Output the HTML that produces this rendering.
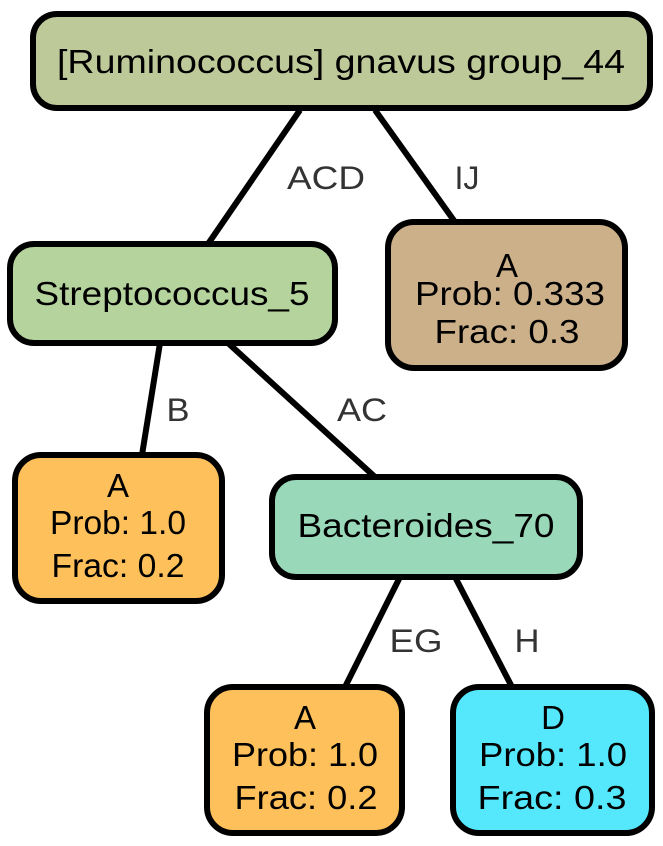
<!DOCTYPE html>
<html><head><meta charset="utf-8"><style>
html,body{margin:0;padding:0;background:#fff}
svg{display:block}
text{font-family:"Liberation Sans",Arial,sans-serif;text-anchor:middle}
</style></head><body>
<svg width="663" height="846" viewBox="0 0 663 846" xmlns="http://www.w3.org/2000/svg">
<g stroke="#000" stroke-width="6" fill="none">
<line x1="300" y1="110" x2="208" y2="244"/>
<line x1="375" y1="110" x2="455" y2="222"/>
<line x1="160" y1="343" x2="142" y2="455"/>
<line x1="228" y1="343" x2="375" y2="477"/>
<line x1="400" y1="577" x2="345" y2="687"/>
<line x1="455" y1="577" x2="512" y2="687"/>
</g>
<g font-size="32" fill="#333">
<text x="326" y="189" textLength="78" lengthAdjust="spacingAndGlyphs">ACD</text>
<text x="467" y="189" textLength="25" lengthAdjust="spacingAndGlyphs">IJ</text>
<text x="178" y="421" textLength="23" lengthAdjust="spacingAndGlyphs">B</text>
<text x="362" y="421" textLength="50" lengthAdjust="spacingAndGlyphs">AC</text>
<text x="416" y="652" textLength="53" lengthAdjust="spacingAndGlyphs">EG</text>
<text x="527" y="652" textLength="25" lengthAdjust="spacingAndGlyphs">H</text>
</g>
<g stroke="#000" stroke-width="6">
<rect x="33" y="14" width="617" height="94" rx="24" fill="#BEC99A"/>
<rect x="10" y="244" width="325" height="99" rx="24" fill="#B5D39C"/>
<rect x="388" y="222" width="237" height="146" rx="26" fill="#CCB08A"/>
<rect x="15" y="455" width="207" height="146" rx="26" fill="#FDC05A"/>
<rect x="272" y="477" width="308" height="100" rx="24" fill="#99D9BA"/>
<rect x="207" y="687" width="195" height="146" rx="26" fill="#FDC05A"/>
<rect x="453" y="687" width="199" height="146" rx="26" fill="#55E8FC"/>
</g>
<g font-size="33" fill="#000">
<text x="341" y="73" textLength="568" lengthAdjust="spacingAndGlyphs">[Ruminococcus] gnavus group_44</text>
<text x="172" y="305" textLength="275" lengthAdjust="spacingAndGlyphs">Streptococcus_5</text>
<text x="426" y="537" textLength="257" lengthAdjust="spacingAndGlyphs">Bacteroides_70</text>
<text x="507" y="277">A</text><text x="510" y="305" textLength="190" lengthAdjust="spacingAndGlyphs">Prob: 0.333</text><text x="507" y="343" textLength="145" lengthAdjust="spacingAndGlyphs">Frac: 0.3</text>
<text x="118" y="497">A</text><text x="118" y="534" textLength="136" lengthAdjust="spacingAndGlyphs">Prob: 1.0</text><text x="118" y="577" textLength="133" lengthAdjust="spacingAndGlyphs">Frac: 0.2</text>
<text x="305" y="729">A</text><text x="305" y="766" textLength="146" lengthAdjust="spacingAndGlyphs">Prob: 1.0</text><text x="306" y="809" textLength="143" lengthAdjust="spacingAndGlyphs">Frac: 0.2</text>
<text x="553" y="729">D</text><text x="553" y="766" textLength="148" lengthAdjust="spacingAndGlyphs">Prob: 1.0</text><text x="552" y="809" textLength="149" lengthAdjust="spacingAndGlyphs">Frac: 0.3</text>
</g>
</svg>
</body></html>
